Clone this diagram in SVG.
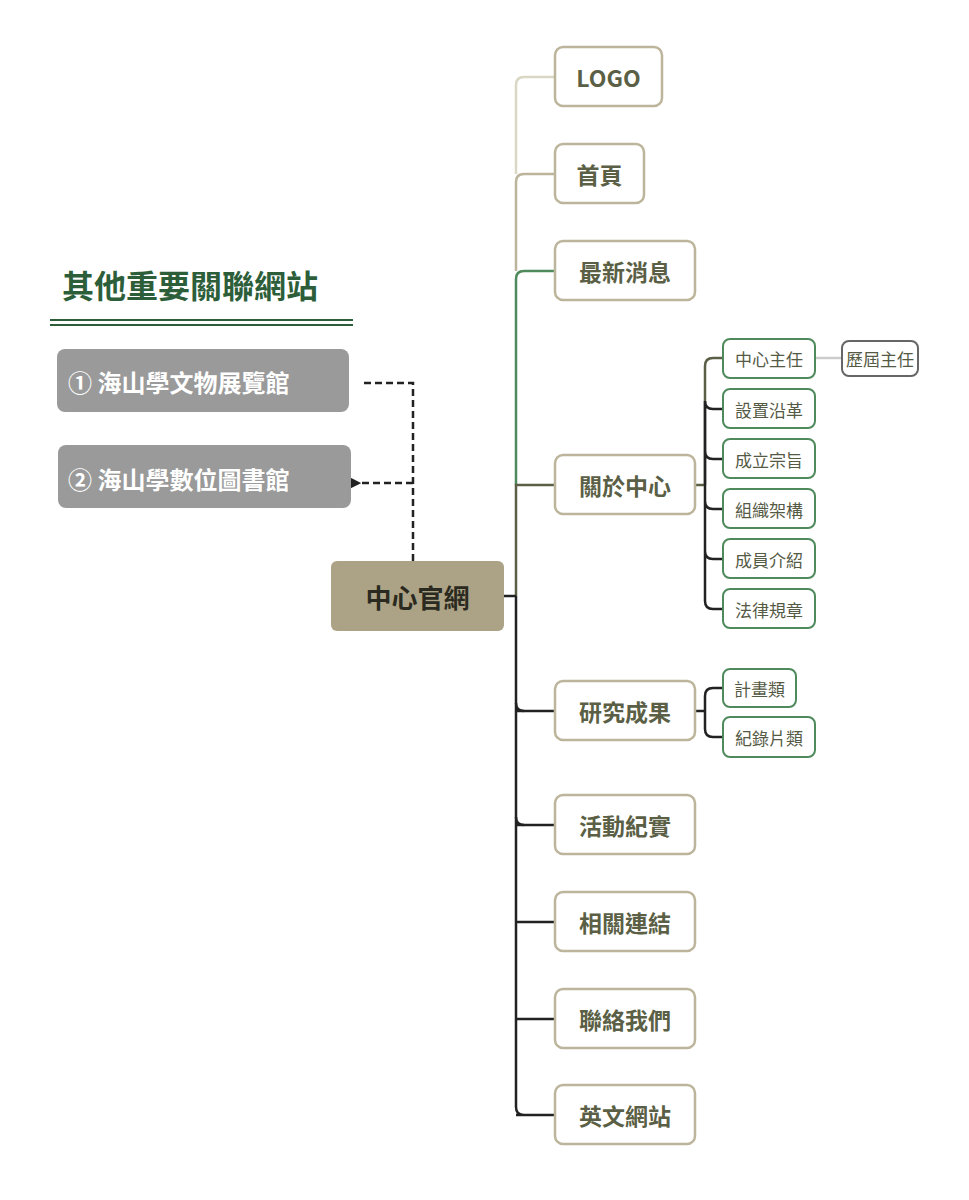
<svg xmlns="http://www.w3.org/2000/svg" width="969" height="1200" viewBox="0 0 969 1200">
<style>
text{font-family:"Noto Sans CJK TC","Noto Sans",sans-serif;}
.m rect{fill:#fff;stroke:#bdb59b;stroke-width:2.5}
.m text{font-size:23px;font-weight:bold;fill:#5a5f45;text-anchor:middle;dominant-baseline:central}
.s rect{fill:#fff;stroke:#4f8a5c;stroke-width:2}
.s text{font-size:17px;fill:#555a45;text-anchor:middle;dominant-baseline:central}
.g rect{fill:#9a9a9a}
.g text{font-size:24px;font-weight:bold;fill:#fff;dominant-baseline:central}
.c path{fill:none;stroke-width:2.5}
</style>
<defs><marker id="ah" viewBox="0 0 10 10" refX="1" refY="5" markerWidth="5" markerHeight="5" orient="auto"><path d="M10,0L0,5L10,10z" fill="#222"/></marker></defs>
<rect width="969" height="1200" fill="#fff"/>
<g id="title"><text x="62" y="284" font-size="32" font-weight="bold" fill="#2d5e3a" dominant-baseline="central">其他重要關聯網站</text>
<line x1="50" y1="320" x2="353" y2="320" stroke="#2d5e3a" stroke-width="2"/><line x1="50" y1="325" x2="353" y2="325" stroke="#2d5e3a" stroke-width="2"/></g>
<g class="c" id="connectors">
<path d="M555,77H524Q516,77 516,85V174" stroke="#d9d8c4"/>
<path d="M555,174H524Q516,174 516,182V271" stroke="#bdb59b"/>
<path d="M555,271H524Q516,271 516,279V485" stroke="#4f8a5c"/>
<path d="M555,485H516V596" stroke="#5a5f45"/>
<path d="M504,596H516M516,596V1107Q516,1115 524,1115H555M516,711H555M516,825H555M516,922H555M516,1019H555M516,1115H555" stroke="#222"/>
<path d="M516,703Q516,711 524,711M516,817Q516,825 524,825" stroke="#222"/>
<path d="M695,485H705M723,358H713Q705,358 705,366V485" stroke="#5a5f45"/>
<path d="M705,401Q705,409 713,409H723M705,451Q705,459 713,459H723M705,485V601Q705,609 713,609H723M705,501Q705,509 713,509H723M705,551Q705,559 713,559H723M705,401V485" stroke="#222"/>
<path d="M815,358H842" stroke="#ccc" stroke-width="1.5"/>
<path d="M695,711H705M723,688H713Q705,688 705,696V729Q705,737 713,737H723" stroke="#222"/>
<path d="M413,561V383H360M413,483H360" stroke="#222" stroke-dasharray="7,4" marker-end="url(#ah)"/>
</g>
<g id="center"><rect x="331" y="561" width="173" height="70" rx="6" fill="#aca285"/><text x="417.5" y="596" font-size="26" font-weight="bold" fill="#2a2a20" text-anchor="middle" dominant-baseline="central">中心官網</text></g>
<g id="ext1" class="g"><rect x="57" y="349" width="292" height="63" rx="8"/><text x="68" y="381">① 海山學文物展覽館</text></g>
<g id="ext2" class="g"><rect x="58" y="445" width="293" height="63" rx="8"/><text x="68" y="478">② 海山學數位圖書館</text></g>
<g id="n1" class="m"><rect x="555" y="47" width="107" height="59" rx="8"/><text x="608.5" y="77">LOGO</text></g>
<g id="n2" class="m"><rect x="555" y="144" width="89" height="59" rx="8"/><text x="599.5" y="174">首頁</text></g>
<g id="n3" class="m"><rect x="555" y="241" width="140" height="59" rx="8"/><text x="625" y="271">最新消息</text></g>
<g id="n4" class="m"><rect x="555" y="455" width="140" height="59" rx="8"/><text x="625" y="485">關於中心</text></g>
<g id="n5" class="m"><rect x="555" y="681" width="140" height="59" rx="8"/><text x="625" y="711">研究成果</text></g>
<g id="n6" class="m"><rect x="555" y="795" width="140" height="59" rx="8"/><text x="625" y="825">活動紀實</text></g>
<g id="n7" class="m"><rect x="555" y="892" width="140" height="59" rx="8"/><text x="625" y="922">相關連結</text></g>
<g id="n8" class="m"><rect x="555" y="989" width="140" height="59" rx="8"/><text x="625" y="1019">聯絡我們</text></g>
<g id="n9" class="m"><rect x="555" y="1085" width="140" height="59" rx="8"/><text x="625" y="1115">英文網站</text></g>
<g id="s1" class="s"><rect x="723" y="339" width="92" height="39" rx="7"/><text x="769" y="358">中心主任</text></g>
<g id="s2" class="s"><rect x="723" y="389" width="92" height="39" rx="7"/><text x="769" y="409">設置沿革</text></g>
<g id="s3" class="s"><rect x="723" y="439" width="92" height="39" rx="7"/><text x="769" y="459">成立宗旨</text></g>
<g id="s4" class="s"><rect x="723" y="489" width="92" height="39" rx="7"/><text x="769" y="509">組織架構</text></g>
<g id="s5" class="s"><rect x="723" y="539" width="92" height="39" rx="7"/><text x="769" y="559">成員介紹</text></g>
<g id="s6" class="s"><rect x="723" y="589" width="92" height="39" rx="7"/><text x="769" y="609">法律規章</text></g>
<g id="s7" class="s"><rect x="842" y="341" width="76" height="35" rx="7" style="stroke:#666"/><text x="880" y="358" font-size="15">歷屆主任</text></g>
<g id="s8" class="s"><rect x="723" y="669" width="73" height="38" rx="7"/><text x="759.5" y="688">計畫類</text></g>
<g id="s9" class="s"><rect x="723" y="717" width="92" height="40" rx="7"/><text x="769" y="737">紀錄片類</text></g>
</svg>
